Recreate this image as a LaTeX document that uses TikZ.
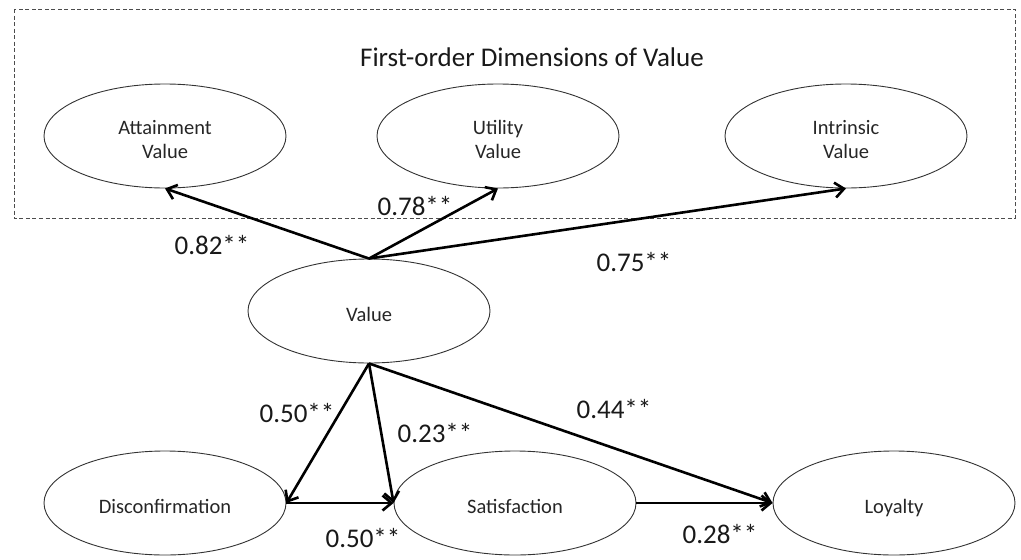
\documentclass[tikz,border=0pt]{standalone}
\usepackage{fontspec}
\setmainfont{Carlito}
\usetikzlibrary{shapes.geometric,arrows.meta}
\newcommand{\toppad}{\rule{0pt}{28pt}}
\begin{document}
\begin{tikzpicture}[x=1pt,y=-1pt,
  latent/.style={ellipse,draw=black!80,line width=0.9pt,minimum width=242pt,minimum height=104pt,
    inner sep=0pt,align=center,font=\fontsize{20.5}{24}\selectfont,text=black!85},
  path/.style={line width=2.6pt,-{Straight Barb[length=9pt,width=15pt,line width=2.6pt]}},
  coef/.style={font=\fontsize{27}{30}\selectfont,text=black!90}]
\useasboundingbox (0,0) rectangle (1021,560);
% first-order dimensions frame
\draw[black!70,line width=0.9pt,dash pattern=on 4pt off 2.5pt] (14,9) rectangle (1015,218);
\node[font=\fontsize{27}{30}\selectfont,text=black!90] (title) at (532,57) {First-order Dimensions of Value};
% latent variables
\node[latent] (att) at (165,136) {\toppad Attainment\\Value\strut};
\node[latent] (uti) at (498,136) {\toppad Utility\\Value\strut};
\node[latent] (int) at (846,136) {\toppad Intrinsic\\Value\strut};
\node[latent] (val) at (369,311) {\toppad Value\strut};
\node[latent] (dis) at (165,503) {\toppad Disconfirmation\strut};
\node[latent] (sat) at (515,503) {\toppad Satisfaction\strut};
\node[latent] (loy) at (894,503) {\toppad Loyalty\strut};
% second-order loadings
\draw[path] (val.north) -- (att.south);
\draw[path] (val.north) -- (uti.south);
\draw[path] (val.north) -- (int.south);
% structural paths
\draw[path] (val.south) -- (dis.east);
\draw[path] (val.south) -- (sat.west);
\draw[path] (val.south) -- (loy.west);
\draw[path] (dis.east) -- (sat.west);
\draw[path] (sat.east) -- (loy.west);
% path coefficients
\node[coef] (c1) at (212,245) {0.82**};
\node[coef] (c2) at (415,206) {0.78**};
\node[coef] (c3) at (634,262) {0.75**};
\node[coef] (c4) at (297,413) {0.50**};
\node[coef] (c5) at (435,433) {0.23**};
\node[coef] (c6) at (614,409) {0.44**};
\node[coef] (c7) at (363,538) {0.50**};
\node[coef] (c8) at (720,534) {0.28**};
\end{tikzpicture}
\end{document}
